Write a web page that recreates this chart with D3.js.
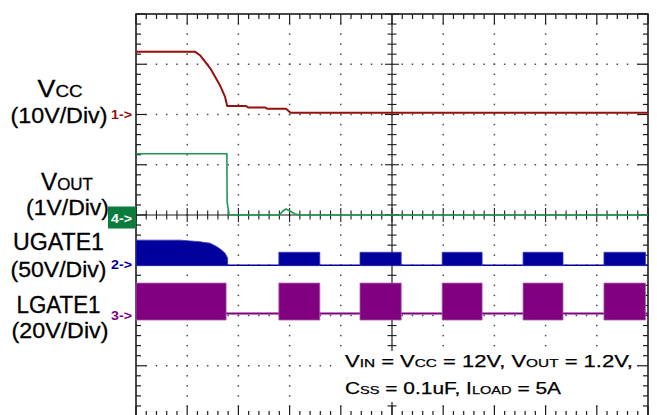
<!DOCTYPE html>
<html>
<head>
<meta charset="utf-8">
<script src="https://cdn.jsdelivr.net/npm/d3@7"></script>
<style>
  body { margin: 0; background: #fff; }
  svg { display: block; }
</style>
</head>
<body>
<div id="scope"></div>
<script>
// screen is 10 x 8 divisions, time and level both read in divisions
const timeDivs = [0, 10];
const levelDivs = [-4, 4];
const minorPerDiv = 5;

// channel setup: volts per division and ground marker position (div from centre)
const chNames = ['VCC', 'UGATE1', 'LGATE1', 'VOUT'];
const chNumbers = ['1', '2', '3', '4'];
const voltsPerDiv = [10, 50, 20, 1];
const groundDiv = [2, -1, -2, 0];
const chColors = ['#960f0f', '#00009c', '#800080', '#1f9a52'];

// CH1  VCC (V)
const vccTime = [0, 1.15, 1.25, 1.45, 1.64, 1.74, 1.78, 2.15, 2.19, 2.52, 2.56, 2.93, 3.02, 10];
const vccVolt = [12.5, 12.5, 11.8, 9.2, 5.8, 3.5, 1.7, 1.7, 1.4, 1.4, 1.15, 1.15, 0.35, 0.35];

// CH4  VOUT (V)
const voutTime = [0, 1.775, 1.78, 1.82, 2.8, 2.87, 2.93, 3.02, 3.11, 3.2, 10];
const voutVolt = [1.22, 1.22, 0.25, 0, 0, 0.08, 0.12, 0.07, 0.02, 0, 0];

// CH2  UGATE1 soft-start envelope (V) before the first hiccup
const ugateEnvTime = [0, 0.86, 1.25, 1.45, 1.58, 1.67, 1.74, 1.79];
const ugateEnvVolt = [25, 25, 23.4, 21.9, 18.5, 15.2, 11.9, 7.2];

// hiccup bursts, both gates switch in the same windows
const burstStart = [2.79, 4.375, 5.98, 7.56, 9.14];
const burstEnd = [3.59, 5.18, 6.76, 8.34, 9.95];
const ugateBurstTop = 12.9;
const ugateBandLow = -0.4;

// CH3  LGATE1 (V)
const lgateFirstEnd = 1.76;
const lgateTop = 12.9;
const lgateBandLow = -1.8;
const lgateOffLevel = 0.8;

let config = {
  width: 657,
  height: 415,
  left: 136,
  right: 648,
  top: 14,
  bottom: 416,
  frameColor: '#1c1c1c',
  dotColor: '#4a4a4a',
  font: '"Liberation Sans", Arial, sans-serif'
};

let svg = d3.select('#scope')
  .append('svg')
  .attr('width', config.width)
  .attr('height', config.height);

let x = d3.scaleLinear().domain(timeDivs).range([config.left, config.right]);
let y = d3.scaleLinear().domain(levelDivs).range([config.bottom, config.top]);

// volts -> screen y for a channel
let chY = (i) => (v) => y(groundDiv[i] + v / voltsPerDiv[i]);

let minorX = d3.range(timeDivs[0] * minorPerDiv, timeDivs[1] * minorPerDiv + 1).map(d => d / minorPerDiv);
let minorY = d3.range(levelDivs[0] * minorPerDiv, levelDivs[1] * minorPerDiv + 1).map(d => d / minorPerDiv);
let isMajor = (d) => Math.abs(d - Math.round(d)) < 1e-6;

// ---- graticule
let grid = svg.append('g').attr('class', 'grid');

let dots = [];
d3.range(1, 10).filter(d => d !== 5).forEach(gx => {
  minorY.filter(v => v > levelDivs[0] && v < levelDivs[1]).forEach(v => dots.push([gx, v]));
});
d3.range(-3, 4).filter(d => d !== 0).forEach(gy => {
  minorX.filter(t => t > timeDivs[0] && t < timeDivs[1]).forEach(t => dots.push([t, gy]));
});
grid.selectAll('rect.dot')
  .data(dots)
  .enter().append('rect')
  .attr('class', 'dot')
  .attr('x', d => x(d[0]) - 0.75)
  .attr('y', d => y(d[1]) - 0.75)
  .attr('width', 1.5)
  .attr('height', 1.5)
  .attr('fill', config.dotColor);

// centre cross
grid.append('line')
  .attr('x1', x(0)).attr('x2', x(10)).attr('y1', y(0)).attr('y2', y(0))
  .attr('stroke', config.frameColor).attr('stroke-width', 1.2);
grid.append('line')
  .attr('x1', x(5)).attr('x2', x(5)).attr('y1', y(-4)).attr('y2', y(4))
  .attr('stroke', config.frameColor).attr('stroke-width', 1.2);

grid.selectAll('line.cx')
  .data(minorX)
  .enter().append('line')
  .attr('class', 'cx')
  .attr('x1', d => x(d)).attr('x2', d => x(d))
  .attr('y1', d => y(0) - (isMajor(d) ? 7 : 4.5))
  .attr('y2', d => y(0) + (isMajor(d) ? 7 : 4.5))
  .attr('stroke', config.frameColor).attr('stroke-width', 1.1);

grid.selectAll('line.cy')
  .data(minorY)
  .enter().append('line')
  .attr('class', 'cy')
  .attr('y1', d => y(d)).attr('y2', d => y(d))
  .attr('x1', d => x(5) - (isMajor(d) ? 7 : 4.5))
  .attr('x2', d => x(5) + (isMajor(d) ? 7 : 4.5))
  .attr('stroke', config.frameColor).attr('stroke-width', 1.1);

// frame and inward edge ticks
grid.append('rect')
  .attr('x', x(0)).attr('y', y(4))
  .attr('width', x(10) - x(0)).attr('height', y(-4) - y(4))
  .attr('fill', 'none')
  .attr('stroke', config.frameColor)
  .attr('stroke-width', 1.6);

let tickLen = (d) => isMajor(d) ? 10 : 5;
[[y(4), 1], [y(-4), -1]].forEach(([edge, dir]) => {
  grid.append('g').selectAll('line')
    .data(minorX)
    .enter().append('line')
    .attr('x1', d => x(d)).attr('x2', d => x(d))
    .attr('y1', edge).attr('y2', d => edge + dir * tickLen(d))
    .attr('stroke', config.frameColor).attr('stroke-width', 1.2);
});
[[x(0), 1], [x(10), -1]].forEach(([edge, dir]) => {
  grid.append('g').selectAll('line')
    .data(minorY)
    .enter().append('line')
    .attr('y1', d => y(d)).attr('y2', d => y(d))
    .attr('x1', edge).attr('x2', d => edge + dir * tickLen(d))
    .attr('stroke', config.frameColor).attr('stroke-width', 1.2);
});

// ---- traces
let traces = svg.append('g').attr('class', 'traces');

// LGATE1 (ch3, index 2)
let yL = chY(2);
traces.append('line')
  .attr('x1', x(0)).attr('x2', x(10))
  .attr('y1', yL(lgateOffLevel)).attr('y2', yL(lgateOffLevel))
  .attr('stroke', chColors[2]).attr('stroke-width', 2);
let lgateBlocks = [[0, lgateFirstEnd]].concat(burstStart.map((s, i) => [s, burstEnd[i]]));
let lgateArea = d3.area()
  .x(d => x(d))
  .y0(yL(lgateBandLow))
  .y1(yL(lgateTop));
traces.append('g').selectAll('path')
  .data(lgateBlocks)
  .enter().append('path')
  .attr('d', d => lgateArea(d))
  .attr('fill', chColors[2])
  .attr('stroke', '#a860a8')
  .attr('stroke-width', 0.8);

// UGATE1 (ch2, index 1)
let yU = chY(1);
traces.append('line')
  .attr('x1', x(0)).attr('x2', x(10))
  .attr('y1', yU(0)).attr('y2', yU(0))
  .attr('stroke', chColors[1]).attr('stroke-width', 1.5);
let ugateArea = d3.area()
  .x(d => x(d.t))
  .y0(yU(ugateBandLow))
  .y1(d => yU(d.v));
let ugateBlocks = [ugateEnvTime.map((t, i) => ({ t: t, v: ugateEnvVolt[i] }))]
  .concat(burstStart.map((s, i) => [{ t: s, v: ugateBurstTop }, { t: burstEnd[i], v: ugateBurstTop }]));
traces.append('g').selectAll('path')
  .data(ugateBlocks)
  .enter().append('path')
  .attr('d', ugateArea)
  .attr('fill', chColors[1])
  .attr('stroke', '#3a3ab0')
  .attr('stroke-width', 0.8);

// VOUT (ch4, index 3)
let yO = chY(3);
traces.append('path')
  .datum(voutTime.map((t, i) => [t, voutVolt[i]]))
  .attr('d', d3.line().x(d => x(d[0])).y(d => yO(d[1])))
  .attr('fill', 'none')
  .attr('stroke', chColors[3])
  .attr('stroke-width', 1.6);

// VCC (ch1, index 0)
let yV = chY(0);
traces.append('path')
  .datum(vccTime.map((t, i) => [t, vccVolt[i]]))
  .attr('d', d3.line().x(d => x(d[0])).y(d => yV(d[1])))
  .attr('fill', 'none')
  .attr('stroke', chColors[0])
  .attr('stroke-width', 2)
  .attr('stroke-linejoin', 'round');

// ---- ground markers
let markers = svg.append('g').attr('class', 'markers')
  .style('font-family', config.font)
  .style('font-weight', 'bold')
  .style('font-size', '12px');

markers.append('rect')
  .attr('x', 108).attr('y', y(groundDiv[3]) - 8.5)
  .attr('width', x(0) - 108).attr('height', 22)
  .attr('fill', '#0c7c3d');

chNumbers.forEach((n, i) => {
  markers.append('text')
    .attr('x', 111)
    .attr('y', y(groundDiv[i]) + (i === 3 ? 7.5 : 4))
    .attr('textLength', 21)
    .attr('lengthAdjust', 'spacingAndGlyphs')
    .attr('fill', i === 3 ? '#ffffff' : chColors[i])
    .text(n + '->');
});

// ---- channel labels
let labels = svg.append('g').attr('class', 'labels')
  .style('font-family', config.font)
  .attr('fill', '#000')
  .attr('stroke', '#000')
  .attr('stroke-width', 0.3);

let addLabel = (cx, base, len, parts, size) => {
  let t = labels.append('text')
    .attr('x', cx)
    .attr('y', base)
    .attr('text-anchor', 'middle')
    .attr('textLength', len)
    .attr('lengthAdjust', 'spacingAndGlyphs');
  parts.forEach(p => {
    t.append('tspan')
      .style('font-size', (p.sub ? size * 0.7 : size) + 'px')
      .text(p.s);
  });
};

addLabel(60, 96.5, 45, [{ s: 'V' }, { s: 'CC', sub: true }], 23);
addLabel(59, 122.5, 97, [{ s: '(10V/Div)' }], 22.5);
addLabel(67, 190, 52, [{ s: 'V' }, { s: 'OUT', sub: true }], 23);
addLabel(67.5, 215, 83, [{ s: '(1V/Div)' }], 22.5);
addLabel(58.5, 250, 91, [{ s: 'UGATE1' }], 23);
addLabel(58.5, 277, 96, [{ s: '(50V/Div)' }], 22.5);
addLabel(58.5, 313, 84, [{ s: 'LGATE1' }], 23);
addLabel(60, 338, 97, [{ s: '(20V/Div)' }], 22.5);

// ---- test conditions, on a blank patch over the graticule
let note = svg.append('g').attr('class', 'note')
  .style('font-family', config.font);

note.append('rect')
  .attr('x', 338).attr('y', 351)
  .attr('width', 299).attr('height', 51)
  .attr('fill', '#fff');

let addNote = (x0, base, len, parts) => {
  let t = note.append('text')
    .attr('x', x0)
    .attr('y', base)
    .attr('textLength', len)
    .attr('lengthAdjust', 'spacingAndGlyphs')
    .attr('fill', '#000')
    .attr('stroke', '#000')
    .attr('stroke-width', 0.25);
  parts.forEach(p => {
    t.append('tspan')
      .style('font-size', (p.sub ? 11.5 : 16.5) + 'px')
      .text(p.s);
  });
};

addNote(345, 366.5, 288, [
  { s: 'V' }, { s: 'IN', sub: true }, { s: ' = V' }, { s: 'CC', sub: true },
  { s: ' = 12V, V' }, { s: 'OUT', sub: true }, { s: ' = 1.2V,' }
]);
addNote(345, 393.5, 216, [
  { s: 'C' }, { s: 'SS', sub: true }, { s: ' = 0.1uF, I' }, { s: 'LOAD', sub: true }, { s: ' = 5A' }
]);
</script>
</body>
</html>
